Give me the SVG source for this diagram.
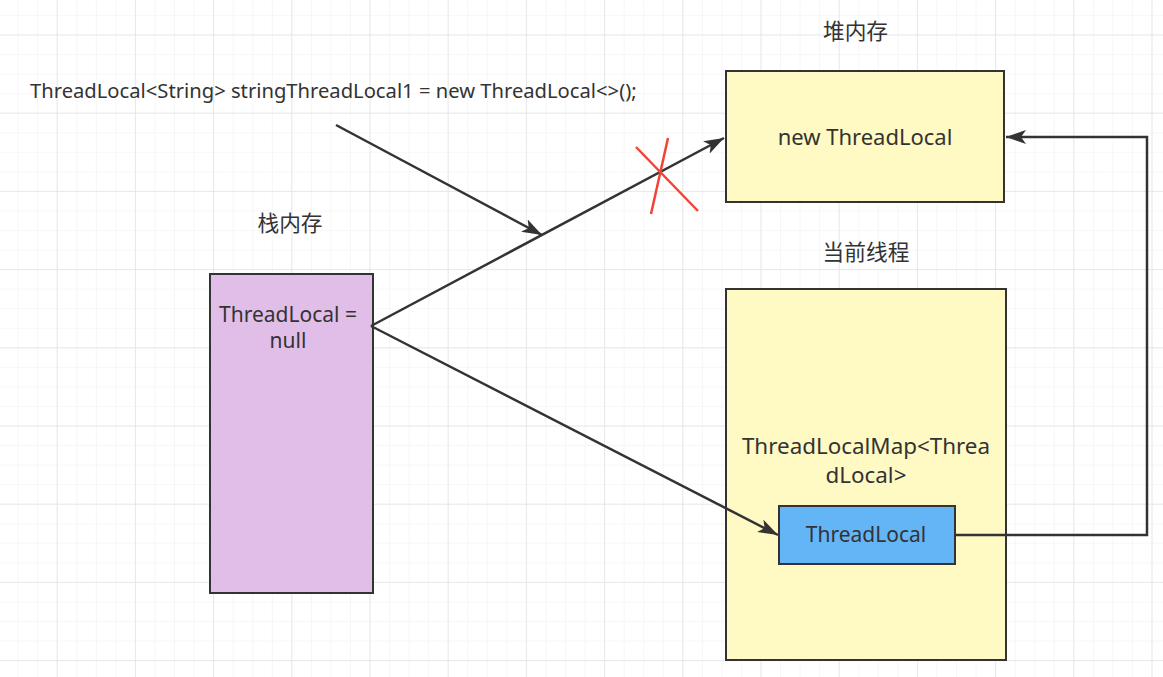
<svg xmlns="http://www.w3.org/2000/svg" width="1163" height="677" viewBox="0 0 1163 677">
<defs>
<pattern id="minor" x="-1.95" y="-4.6" width="19.55" height="19.55" patternUnits="userSpaceOnUse">
<path d="M0 0H19.55M0 0V19.55" fill="none" stroke="#f0f0f0" stroke-width="1.2"/>
</pattern>
<pattern id="major" x="-21.5" y="-43.7" width="78.2" height="78.2" patternUnits="userSpaceOnUse">
<path d="M0 0H78.2M0 0V78.2" fill="none" stroke="#e4e4e4" stroke-width="1.5"/>
</pattern>
<marker id="arrow" viewBox="0 0 20 14" refX="20" refY="7" markerWidth="20" markerHeight="14" markerUnits="userSpaceOnUse" orient="auto">
<path d="M0 0L20 7L0 14L5 7Z" fill="#333"/>
</marker>
</defs>
<style>
text{font-family:"Noto Sans","Noto Sans CJK SC",sans-serif;fill:#333;font-size:21px;text-anchor:middle}
.head{font-size:21.7px}
.box{stroke:#333;stroke-width:2}
.conn{fill:none;stroke:#333;stroke-width:2.5}
</style>
<rect width="1163" height="677" fill="#fff"/>
<rect width="1163" height="677" fill="url(#minor)"/>
<rect width="1163" height="677" fill="url(#major)"/>

<g id="code-label"><text x="30" y="98" style="text-anchor:start;font-size:20.2px">ThreadLocal&lt;String&gt; stringThreadLocal1 = new ThreadLocal&lt;&gt;();</text></g>
<g id="heap-label"><text class="head" x="855.5" y="39">堆内存</text></g>
<g id="stack-label"><text class="head" x="290" y="231">栈内存</text></g>
<g id="thread-label"><text class="head" x="866" y="260">当前线程</text></g>

<g id="stack-box">
<rect class="box" x="210" y="274" width="163" height="319" fill="#e1bee7"/>
<text x="288" y="322">ThreadLocal =</text>
<text x="288" y="348">null</text>
</g>
<g id="heap-box">
<rect class="box" x="726" y="71" width="278" height="131" fill="#fff9c4"/>
<text x="865" y="145" style="font-size:22px">new ThreadLocal</text>
</g>
<g id="thread-box">
<rect class="box" x="726" y="289" width="280" height="371" fill="#fff9c4"/>
<text x="866" y="454" style="font-size:22.4px">ThreadLocalMap&lt;Threa</text>
<text x="866" y="483" style="font-size:22.4px">dLocal&gt;</text>
</g>
<g id="threadlocal-box">
<rect class="box" x="779" y="506" width="176" height="58" fill="#64b5f6"/>
<text x="866" y="542">ThreadLocal</text>
</g>

<g id="connectors">
<path class="conn" d="M336 125L542 235" marker-end="url(#arrow)"/>
<path class="conn" d="M371 326L724 138" marker-end="url(#arrow)"/>
<path class="conn" d="M371 326L778 535" marker-end="url(#arrow)"/>
<path class="conn" d="M955 535H1147V137H1006" marker-end="url(#arrow)"/>
<path d="M636 147L698 211M668 138L651 214" stroke="#f44336" stroke-width="2.5" fill="none"/>
</g>
</svg>
